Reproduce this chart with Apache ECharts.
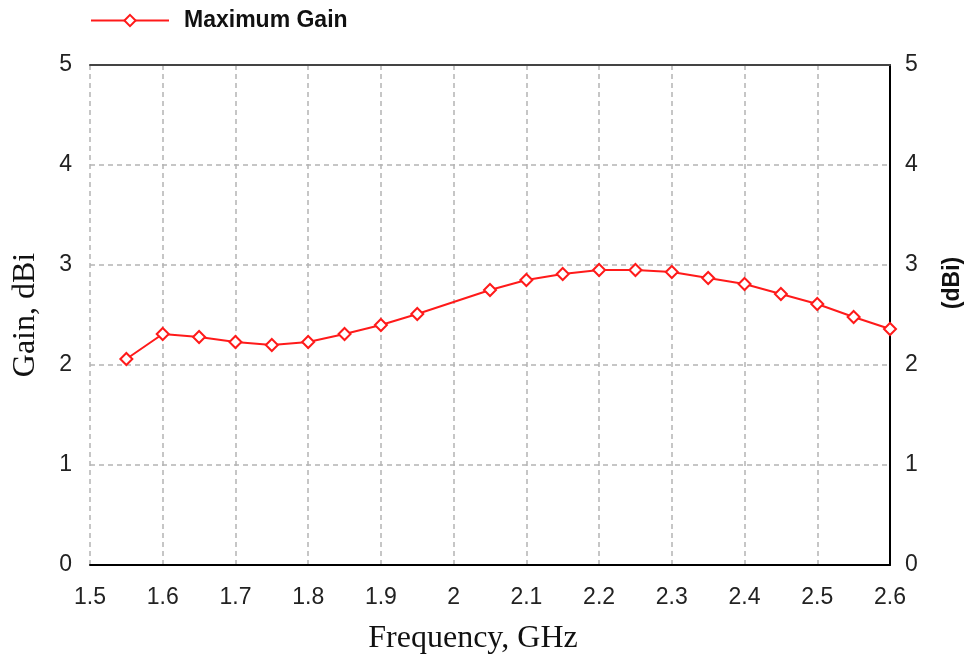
<!DOCTYPE html>
<html>
<head>
<meta charset="utf-8">
<script src="https://cdn.jsdelivr.net/npm/echarts@6/dist/echarts.min.js"></script>
<style>
  html, body { margin: 0; padding: 0; background: #fff; }
  #chart { width: 964px; height: 659px; }
</style>
</head>
<body>
<div id="chart"></div>
<script>
// Measured maximum gain versus frequency
const frequencies = [1.55, 1.6, 1.65, 1.7, 1.75, 1.8, 1.85, 1.9, 1.95, 2.05, 2.1, 2.15, 2.2, 2.25, 2.3, 2.35, 2.4, 2.45, 2.5, 2.55, 2.6];
const gainValues  = [2.06, 2.31, 2.28, 2.23, 2.20, 2.23, 2.31, 2.40, 2.51, 2.75, 2.85, 2.91, 2.95, 2.95, 2.93, 2.87, 2.81, 2.71, 2.61, 2.48, 2.36];
const seriesName = 'Maximum Gain';

const points = frequencies.map((f, i) => [f, gainValues[i]]);

const sansFamily = 'Liberation Sans, Arial, sans-serif';
const serifFamily = 'Liberation Serif, Times New Roman, serif';
const gridDash = { color: '#b4b4b4', width: 1.5, type: [5, 4] };
const tickFont = { fontFamily: sansFamily, fontSize: 23, color: '#222' };
const titleFont = { fontFamily: serifFamily, fontSize: 32, color: '#111' };

const chart = echarts.init(document.getElementById('chart'), null, { renderer: 'canvas' });
chart.setOption({
  animation: false,
  backgroundColor: '#fff',
  legend: {
    left: 85, top: 4,
    itemWidth: 78, itemHeight: 14,
    textStyle: { fontFamily: sansFamily, fontSize: 23, fontWeight: 'bold', color: '#111', padding: [0, 0, 0, 10] },
    data: [seriesName]
  },
  grid: { left: 90, right: 74, top: 65, bottom: 94, containLabel: false, outerBoundsMode: 'none' },
  xAxis: [
    {
      type: 'value', min: 1.5, max: 2.6, interval: 0.1, position: 'bottom',
      name: 'Frequency, GHz', nameLocation: 'middle', nameGap: 58,
      nameTextStyle: { ...titleFont, padding: [0, 34, 0, 0] },
      axisLine: { show: true, onZero: false, lineStyle: { color: '#000', width: 2 } },
      axisTick: { show: false },
      axisLabel: { ...tickFont, margin: 21, formatter: v => String(Math.round(v * 10) / 10) },
      splitLine: { show: true, lineStyle: gridDash }
    },
    {
      // solid frame edge along the top of the plot
      type: 'value', min: 1.5, max: 2.6, position: 'top',
      axisLine: { show: true, onZero: false, lineStyle: { color: '#444', width: 2 } },
      axisTick: { show: false }, axisLabel: { show: false }, splitLine: { show: false }
    }
  ],
  yAxis: [
    {
      type: 'value', min: 0, max: 5, interval: 1, position: 'left',
      name: 'Gain, dBi', nameLocation: 'middle', nameGap: 48,
      nameTextStyle: titleFont,
      axisLine: { show: false }, axisTick: { show: false },
      axisLabel: { ...tickFont, margin: 18 },
      splitLine: { show: true, lineStyle: gridDash }
    },
    {
      type: 'value', min: 0, max: 5, interval: 1, position: 'right',
      name: '(dBi)', nameLocation: 'middle', nameGap: 51, nameRotate: 90,
      nameTextStyle: { fontFamily: sansFamily, fontSize: 23, fontWeight: 'bold', color: '#111', padding: [0, 0, 0, 64] },
      axisLine: { show: true, onZero: false, lineStyle: { color: '#000', width: 2 } },
      axisTick: { show: false },
      axisLabel: { ...tickFont, margin: 15 },
      splitLine: { show: false }
    }
  ],
  series: [{
    name: seriesName,
    type: 'line',
    data: points,
    symbol: 'emptyDiamond',
    symbolSize: 12,
    lineStyle: { color: '#ff1a1a', width: 2 },
    itemStyle: { color: '#ff1a1a', borderWidth: 1.5 }
  }]
});
</script>
</body>
</html>
